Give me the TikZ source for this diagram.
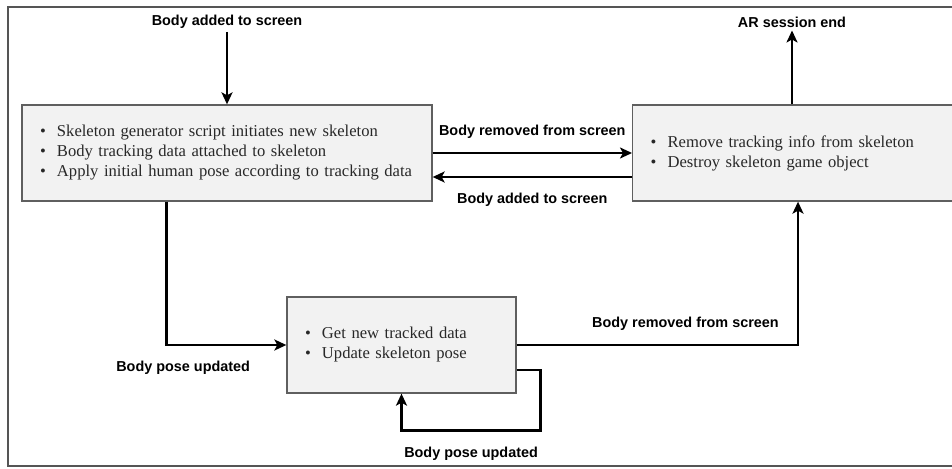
\documentclass[tikz,border=0pt]{standalone}
\usepackage{fontspec}
\setmainfont{Liberation Serif}
\setsansfont{Liberation Sans}
\usepackage{tikz}
\usepackage{xcolor}
\usetikzlibrary{arrows.meta, positioning, calc}
\definecolor{cBox}{RGB}{242,242,242}
\definecolor{cEdge}{RGB}{95,95,95}
\definecolor{cFrame}{RGB}{85,85,85}
\definecolor{cInk}{RGB}{40,40,40}
\newcommand{\itm}[1]{\makebox[24pt][l]{\hspace{7pt}\textbullet}#1}
\tikzset{
	statebox/.style={rectangle, draw=cEdge, line width=1.3pt, fill=cBox, minimum height=96pt, inner xsep=10pt, align=left, text=cInk, font=\rmfamily\fontsize{16.6}{20}\selectfont},
	% connector styles
	lbl/.style     ={font=\sffamily\bfseries\fontsize{14.4}{17}\selectfont, inner sep=3pt},
	flow/.style    ={-{Stealth[length=12pt, width=11pt, inset=3pt]}, line width=2.4pt},
}
\begin{document}
\begin{tikzpicture}[x=1pt, y=-1pt]
	\path[use as bounding box, clip] (0,0) rectangle (952,468);
	\fill[white] (0,0) rectangle (952,468);
	\draw[cFrame, line width=2pt] (8,7) rectangle (975,466);

	\node[statebox, minimum width=410pt, text width=388pt] (init) at (227,153)
		{\itm{Skeleton generator script initiates new skeleton}\\
		 \itm{Body tracking data attached to skeleton}\\
		 \itm{Apply initial human pose according to tracking data}};
	\node[statebox, anchor=west, minimum width=340pt, text width=318pt] (remove) at (632,153)
		{\itm{Remove tracking info from skeleton}\\
		 \itm{Destroy skeleton game object}};
	\node[statebox, minimum width=229pt, text width=207pt] (update) at (401.5,345)
		{\itm{Get new tracked data}\\
		 \itm{Update skeleton pose}};

	\node[lbl] (added) at (227,22) {Body added to screen};
	\node[lbl] (arEnd) at (792,22) {AR session end};

	\draw[flow] (added) -- (init);
	\draw[flow] (arEnd |- remove.north) -- (arEnd);
	\draw[flow] (init.east) -- (remove.west)
		node[lbl, midway, above=10pt] {Body removed from screen};
	\draw[flow] ([yshift=-24pt]remove.west) -- ([yshift=-24pt]remove.west -| init.east)
		node[lbl, midway, below=12pt] {Body added to screen};
	\draw[flow] ([xshift=145pt]init.south west) |- (update.west)
		node[lbl, pos=0.57, below=12pt] {Body pose updated};
	\draw[flow] (update.east) -| ([xshift=166pt]remove.south west)
		node[lbl, pos=0.3, above=10pt] {Body removed from screen};
	\draw[flow] ([yshift=-25pt]update.east) -- ++(24,0) |- ([yshift=-37pt]update.south)
		node[lbl, pos=0.75, below=12pt] {Body pose updated} -- (update.south);
\end{tikzpicture}
\end{document}
